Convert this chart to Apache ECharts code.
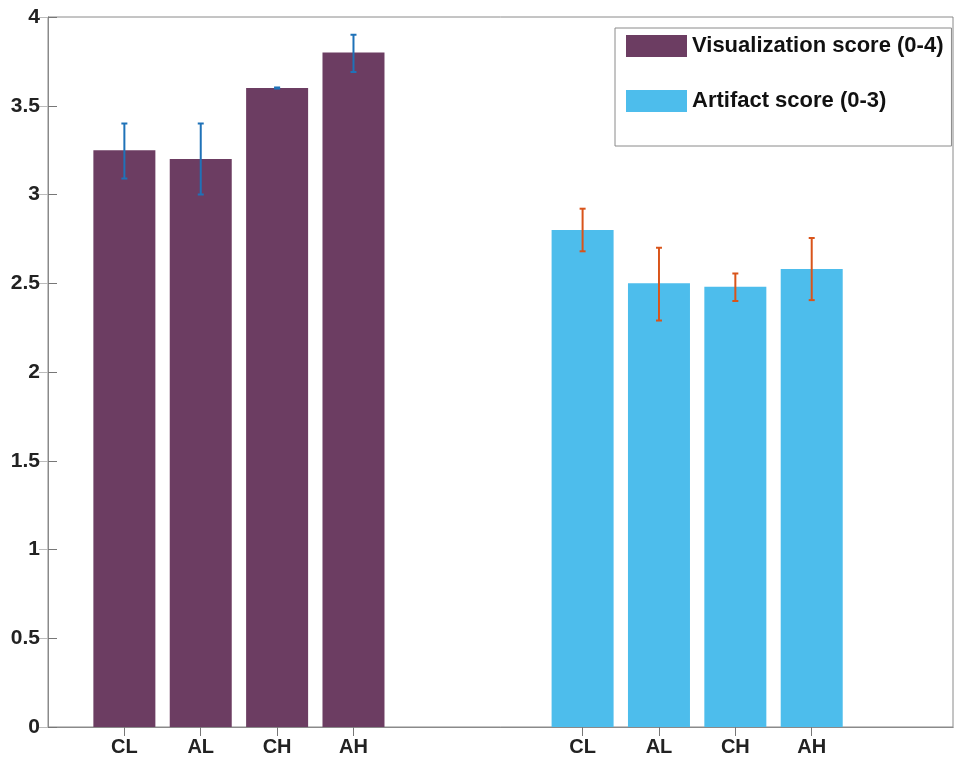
<!DOCTYPE html>
<html lang="en">
<head>
    <meta charset="UTF-8">
    <title>Scores</title>
    <script type="text/javascript" src="https://cdn.jsdelivr.net/npm/echarts@6/dist/echarts.min.js"></script>
</head>
<body style="margin: 0">
    <div id="main" style="width: 955px; height: 762px"></div>
    <script type="text/javascript">
        var categories = ['CL', 'AL', 'CH', 'AH'];
        var visPos = [1, 2, 3, 4];
        var artPos = [7, 8, 9, 10];

        var visScore = [3.25, 3.2, 3.6, 3.8];
        var visLow = [3.09, 3.0, 3.597, 3.69];
        var visHigh = [3.4, 3.4, 3.603, 3.9];

        var artScore = [2.8, 2.5, 2.48, 2.58];
        var artLow = [2.68, 2.29, 2.40, 2.405];
        var artHigh = [2.92, 2.70, 2.555, 2.755];

        var tickPos = visPos.concat(artPos);
        var tickNames = categories.concat(categories);

        function pairs(xs, ys) {
            return xs.map(function (x, i) { return [x, ys[i]]; });
        }
        function errRows(xs, lo, hi) {
            return xs.map(function (x, i) { return [x, lo[i], hi[i]]; });
        }

        // vertical error line with small caps, drawn over the bars
        function errorBar(color) {
            return function (params, api) {
                var x = api.value(0);
                var top = api.coord([x, api.value(2)]);
                var bot = api.coord([x, api.value(1)]);
                var cap = 3;
                var style = { stroke: color, lineWidth: 2 };
                return {
                    type: 'group',
                    children: [
                        { type: 'line', shape: { x1: top[0], y1: top[1], x2: bot[0], y2: bot[1] }, style: style },
                        { type: 'line', shape: { x1: top[0] - cap, y1: top[1], x2: top[0] + cap, y2: top[1] }, style: style },
                        { type: 'line', shape: { x1: bot[0] - cap, y1: bot[1], x2: bot[0] + cap, y2: bot[1] }, style: style }
                    ]
                };
            };
        }

        var myChart = echarts.init(document.getElementById('main'));

        myChart.setOption({
            animation: false,
            textStyle: { fontFamily: 'Liberation Sans, Arial, sans-serif' },
            grid: {
                left: 48,
                right: 2,
                top: 17,
                bottom: 35,
                show: true,
                borderColor: '#8a8a8a',
                borderWidth: 1
            },
            legend: {
                orient: 'vertical',
                left: 615,
                top: 28,
                padding: [7, 8, 34, 11],
                itemWidth: 61,
                itemHeight: 22,
                itemGap: 33,
                icon: 'rect',
                borderColor: '#8a8a8a',
                borderWidth: 1,
                backgroundColor: '#fff',
                textStyle: {
                    fontSize: 22,
                    fontWeight: 'bold',
                    color: '#111'
                },
                data: ['Visualization score (0-4)', 'Artifact score (0-3)']
            },
            xAxis: [{
                type: 'value',
                min: 0,
                max: 11.85,
                splitLine: { show: false },
                axisLine: { lineStyle: { color: '#8a8a8a' } },
                axisTick: {
                    inside: true,
                    length: 9,
                    customValues: tickPos,
                    lineStyle: { color: '#777' }
                },
                axisLabel: {
                    customValues: tickPos,
                    margin: 10,
                    fontSize: 20,
                    fontWeight: 'bold',
                    color: '#222',
                    formatter: function (v) {
                        var i = tickPos.indexOf(v);
                        return i >= 0 ? tickNames[i] : '';
                    }
                }
            }, {
                type: 'value',
                position: 'top',
                min: 0,
                max: 11.85,
                splitLine: { show: false },
                axisLine: { lineStyle: { color: '#8a8a8a' } },
                axisTick: {
                    inside: true,
                    length: 9,
                    customValues: tickPos,
                    lineStyle: { color: '#777' }
                },
                axisLabel: { show: false }
            }],
            yAxis: [{
                type: 'value',
                min: 0,
                max: 4,
                interval: 0.5,
                splitLine: { show: false },
                axisLine: { show: true, lineStyle: { color: '#8a8a8a' } },
                axisTick: { inside: true, length: 9, lineStyle: { color: '#777' } },
                axisLabel: {
                    margin: 8,
                    fontSize: 21,
                    fontWeight: 'bold',
                    color: '#222'
                }
            }, {
                type: 'value',
                position: 'right',
                min: 0,
                max: 4,
                interval: 0.5,
                splitLine: { show: false },
                axisLine: { show: true, lineStyle: { color: '#8a8a8a' } },
                axisTick: { inside: true, length: 9, lineStyle: { color: '#bbb' } },
                axisLabel: { show: false }
            }],
            series: [{
                name: 'Visualization score (0-4)',
                type: 'bar',
                barWidth: 62,
                barGap: '-100%',
                itemStyle: { color: '#6c3d62' },
                data: pairs(visPos, visScore)
            }, {
                name: 'Artifact score (0-3)',
                type: 'bar',
                barWidth: 62,
                barGap: '-100%',
                itemStyle: { color: '#4dbdec' },
                data: pairs(artPos, artScore)
            }, {
                type: 'custom',
                renderItem: errorBar('#1f72b8'),
                encode: { x: 0, y: [1, 2] },
                z: 5,
                data: errRows(visPos, visLow, visHigh)
            }, {
                type: 'custom',
                renderItem: errorBar('#d9541a'),
                encode: { x: 0, y: [1, 2] },
                z: 5,
                data: errRows(artPos, artLow, artHigh)
            }]
        });
    </script>
</body>
</html>
